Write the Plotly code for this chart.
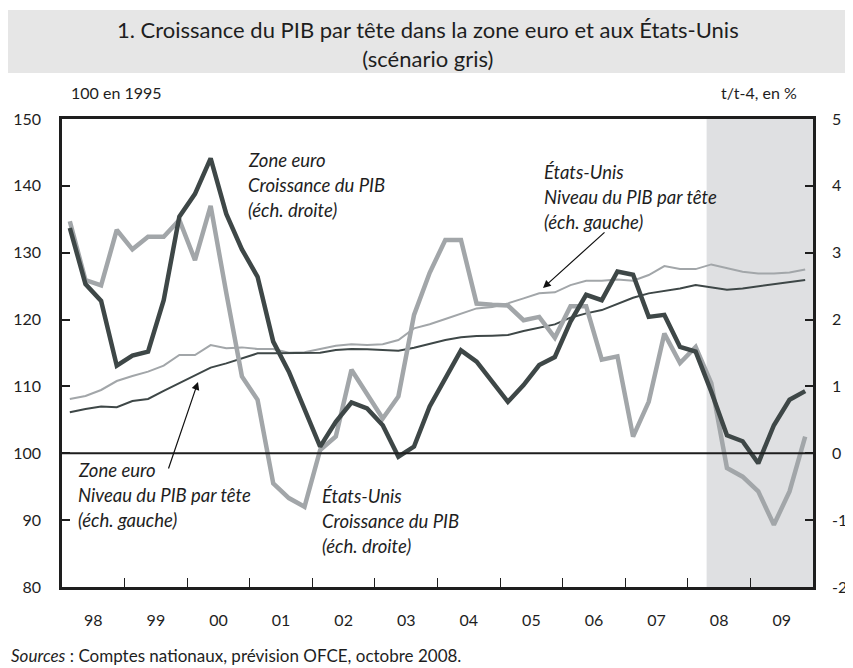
import plotly.graph_objects as go

# ---------------- data ----------------
years = list(range(1998, 2010))
year_labels = ["98", "99", "00", "01", "02", "03", "04", "05", "06", "07", "08", "09"]
quarters = [f"{y}Q{q}" for y in years for q in range(1, 5)]
right_tick_vals = [-2, -1, 0, 1, 2, 3, 4, 5]
right_tick_labels = ["-2", "-1", "0", "1", "2", "3", "4", "5"]

ze_growth = [3.37, 2.53, 2.28, 1.31, 1.46, 1.52, 2.29, 3.54, 3.88, 4.41, 3.58, 3.05,
             2.64, 1.67, 1.22, 0.67, 0.10, 0.47, 0.76, 0.67, 0.42, -0.05, 0.10, 0.70,
             1.12, 1.54, 1.37, 1.07, 0.77, 1.02, 1.32, 1.44, 1.97, 2.37, 2.29, 2.72,
             2.67, 2.04, 2.07, 1.59, 1.52, 0.92, 0.27, 0.18, -0.15, 0.42, 0.80, 0.93]
us_growth = [3.47, 2.59, 2.51, 3.34, 3.05, 3.24, 3.24, 3.49, 2.89, 3.70, 2.40, 1.15,
             0.80, -0.45, -0.67, -0.80, 0.05, 0.25, 1.25, 0.87, 0.52, 0.85, 2.07, 2.70,
             3.19, 3.19, 2.24, 2.22, 2.21, 1.99, 2.04, 1.73, 2.20, 2.20, 1.40, 1.45,
             0.25, 0.77, 1.79, 1.35, 1.59, 1.05, -0.22, -0.35, -0.57, -1.07, -0.57, 0.25]
ze_level = [106.13, 106.63, 106.98, 106.88, 107.82, 108.12, 109.32, 110.46, 111.71, 112.81, 113.45, 114.2,
            114.95, 114.95, 114.95, 114.95, 115.05, 115.45, 115.6, 115.55, 115.45, 115.35, 115.8, 116.4,
            116.94, 117.34, 117.54, 117.59, 117.69, 118.29, 118.78, 119.28, 120.28, 120.93, 121.42, 122.35,
            123.27, 123.92, 124.27, 124.66, 125.16, 124.76, 124.46, 124.66, 124.96, 125.26, 125.56, 125.91]
us_level = [108.12, 108.57, 109.47, 110.81, 111.56, 112.21, 113.1, 114.7, 114.7, 116.19, 115.7, 115.84,
            115.6, 115.6, 115.05, 115.1, 115.6, 116.1, 116.3, 116.2, 116.3, 116.94, 118.68, 119.3,
            120.08, 120.93, 121.67, 121.87, 122.42, 123.17, 123.92, 124.07, 125.16, 125.81, 125.81, 126.0,
            125.81, 126.66, 128.0, 127.55, 127.55, 128.25, 127.65, 127.15, 126.9, 126.9, 127.05, 127.5]
forecast_start = 2008.3

# x position of each quarter (middle of the quarter)
xq = [int(q[:4]) + (int(q[-1]) - 0.5) / 4 for q in quarters]

DARK = "#3e4747"
LIGHT = "#a2a6a9"
INK = "#1e1e1e"
FONT = "Lato"

# reference frame (853x668 window); the page body has an 8px margin
OFF = 8
WIN_W, WIN_H = 853, 668
L, RGT, T, BOT = 62, 813, 119, 587          # plot area in window pixels
PW, PH = RGT - L, BOT - T
W, H = WIN_W - OFF, WIN_H - OFF


def px(x):
    return (x - L) / PW


def py(y):
    return (BOT - y) / PH


fig = go.Figure()
fig.add_trace(go.Scatter(x=xq, y=us_level, mode="lines", line=dict(color=LIGHT, width=2),
                         yaxis="y", name="US level"))
fig.add_trace(go.Scatter(x=xq, y=ze_level, mode="lines", line=dict(color=DARK, width=2),
                         yaxis="y", name="ZE level"))
fig.add_trace(go.Scatter(x=xq, y=us_growth, mode="lines", line=dict(color=LIGHT, width=4.5),
                         yaxis="y2", name="US growth"))
fig.add_trace(go.Scatter(x=xq, y=ze_growth, mode="lines", line=dict(color=DARK, width=4.5),
                         yaxis="y2", name="ZE growth"))

shapes = [
    # forecast shading
    dict(type="rect", xref="x", yref="paper", x0=forecast_start, x1=2010, y0=0, y1=1,
         fillcolor="#dfe0e2", line=dict(width=0), layer="below"),
    # zero line
    dict(type="line", xref="paper", yref="y", x0=0, x1=1, y0=100, y1=100,
         line=dict(color=INK, width=2)),
    # title band
    dict(type="rect", xref="paper", yref="paper", x0=px(5), x1=px(860), y0=py(73), y1=py(10),
         fillcolor="#e6e6e6", line=dict(width=0), layer="below"),
]

ann = []
ann.append(dict(text="1. Croissance du PIB par tête dans la zone euro et aux États-Unis<br>(scénario gris)",
                x=px(428), y=py(44), xref="paper", yref="paper", showarrow=False,
                xanchor="center", yanchor="middle", font=dict(size=22, color=INK, family=FONT)))
ann.append(dict(text="100 en 1995", x=px(69), y=py(92), xref="paper", yref="paper", showarrow=False,
                xanchor="left", yanchor="middle", font=dict(size=16, color=INK, family=FONT)))
ann.append(dict(text="t/t-4, en %", x=px(799), y=py(92), xref="paper", yref="paper", showarrow=False,
                xanchor="right", yanchor="middle", font=dict(size=16, color=INK, family=FONT)))
ann.append(dict(text="<i>Sources</i> : Comptes nationaux, prévision OFCE, octobre 2008.",
                x=px(9), y=py(655), xref="paper", yref="paper", showarrow=False,
                xanchor="left", yanchor="middle", font=dict(size=17, color=INK, family=FONT)))

labels = [
    (246, 160, ["Zone euro", "Croissance du PIB", "(éch. droite)"]),
    (542, 172, ["États-Unis", "Niveau du PIB par tête", "(éch. gauche)"]),
    (76, 470, ["Zone euro", "Niveau du PIB par tête", "(éch. gauche)"]),
    (320, 496, ["États-Unis", "Croissance du PIB", "(éch. droite)"]),
]
for x0, y0, lines in labels:
    for k, t in enumerate(lines):
        ann.append(dict(text=f"<i>{t}</i>", x=px(x0), y=py(y0 + 25 * k), xref="paper", yref="paper",
                        showarrow=False, xanchor="left", yanchor="middle",
                        font=dict(size=18.5, color=INK, family=FONT)))

# arrows (head, tail in window pixels)
for (hx, hy), (tx, ty) in [((543, 288), (606, 231)), ((198, 382), (168, 470))]:
    ann.append(dict(text="", x=px(hx), y=py(hy), xref="paper", yref="paper", showarrow=True,
                    ax=tx - hx, ay=ty - hy, arrowhead=2, arrowsize=1.3, arrowwidth=1.2,
                    arrowcolor="#111"))

fig.update_layout(
    width=W, height=H,
    margin=dict(l=L - OFF, r=WIN_W - RGT, t=T - OFF, b=WIN_H - BOT, autoexpand=False),
    paper_bgcolor="white", plot_bgcolor="white",
    showlegend=False,
    font=dict(family=FONT, color=INK),
    xaxis=dict(range=[1998, 2010], showgrid=False, zeroline=False, automargin=False,
               showline=True, mirror=True, linecolor=INK, linewidth=2.5,
               tickvals=[y + 0.5 for y in years], ticktext=year_labels, ticks="",
               ticklabelstandoff=17, tickfont=dict(size=16, color=INK, family=FONT),
               minor=dict(tickvals=years[1:], ticks="inside", ticklen=9, tickwidth=1.3,
                          tickcolor=INK, showgrid=False)),
    yaxis=dict(range=[80, 150], dtick=10, showgrid=False, zeroline=False, automargin=False,
               showline=True, linecolor=INK, linewidth=2.5,
               ticks="inside", ticklen=8, tickwidth=1.5, tickcolor=INK,
               ticklabelstandoff=15, tickfont=dict(size=16, color=INK, family=FONT)),
    yaxis2=dict(range=[-2, 5], tickvals=right_tick_vals, ticktext=right_tick_labels,
                overlaying="y", side="right", showgrid=False, zeroline=False,
                automargin=False,
                showline=True, linecolor=INK, linewidth=2.5,
                ticks="inside", ticklen=8, tickwidth=1.5, tickcolor=INK,
                ticklabelstandoff=13, tickfont=dict(size=16, color=INK, family=FONT)),
    shapes=shapes,
    annotations=ann,
)

fig.write_html("out.html")
